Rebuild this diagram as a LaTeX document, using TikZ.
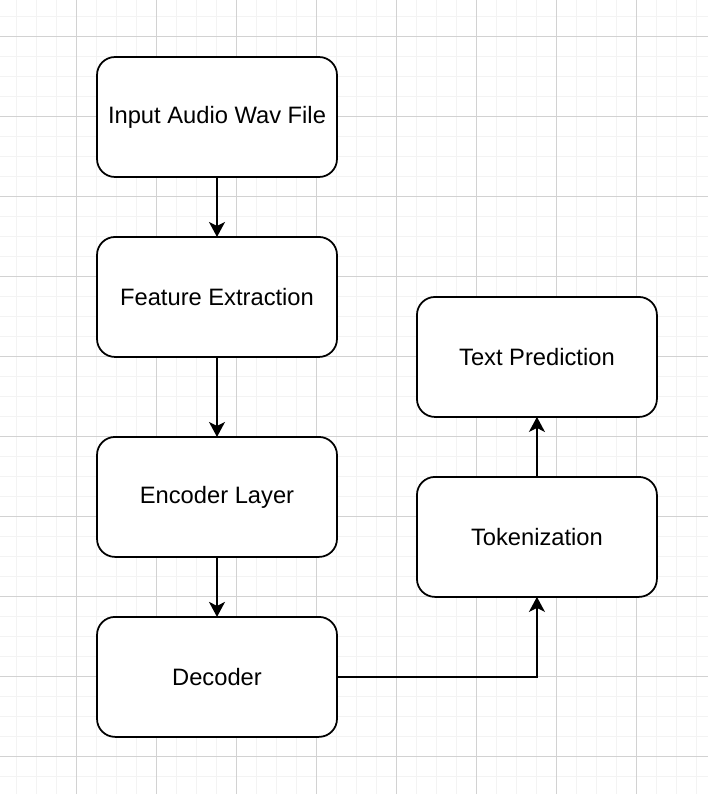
\documentclass[tikz,border=0pt]{standalone}
\usepackage{fontspec}
\setmainfont{Liberation Sans}
\usetikzlibrary{arrows.meta, positioning}
\definecolor{gridminor}{RGB}{243,243,243}
\definecolor{gridmajor}{RGB}{210,210,210}

\begin{document}
\begin{tikzpicture}[
    x=0.02cm, y=-0.02cm,
    node distance=1.2cm,
    every node/.style={font=\fontsize{13.5}{16}\selectfont},
    stepbox/.style={rectangle, draw, line width=1pt, outer sep=0pt, rounded corners=0.36cm, minimum width=4.8cm, minimum height=2.4cm, align=center, fill=white},
    arrow/.style={-{Stealth[length=0.3cm, width=0.32cm, inset=0.08cm]}, line width=1pt},
    minorline/.style={draw=gridminor, line width=0.6pt},
    majorline/.style={draw=gridmajor, line width=0.6pt}
]

% Page and grid
\useasboundingbox[fill=white] (0,0) rectangle (708,794);
\foreach \k in {0,...,34} \draw[minorline] ({16.7+20*\k},0) -- ++(0,794);
\foreach \k in {0,...,38} \draw[minorline] (0,{16.7+20*\k}) -- ++(708,0);
\foreach \k in {0,...,7} \draw[majorline] ({76.7+80*\k},0) -- ++(0,794);
\foreach \k in {0,...,9} \draw[majorline] (0,{36.7+80*\k}) -- ++(708,0);

% Left column
\node[stepbox] (input) at (217,117) {Input Audio Wav File};
\node[stepbox, below=of input] (feature) {Feature Extraction};
\node[stepbox, below=1.6cm of feature] (encoder) {Encoder Layer};
\node[stepbox, below=of encoder] (decoder) {Decoder};

% Right column
\node[stepbox, right=1.6cm of decoder, yshift=2.8cm] (token) {Tokenization};
\node[stepbox, above=of token] (textpred) {Text Prediction};

% Arrows
\draw[arrow] (input) -- (feature);
\draw[arrow] (feature) -- (encoder);
\draw[arrow] (encoder) -- (decoder);
\draw[arrow] (decoder.east) -| (token.south);
\draw[arrow] (token) -- (textpred);

\end{tikzpicture}
\end{document}
